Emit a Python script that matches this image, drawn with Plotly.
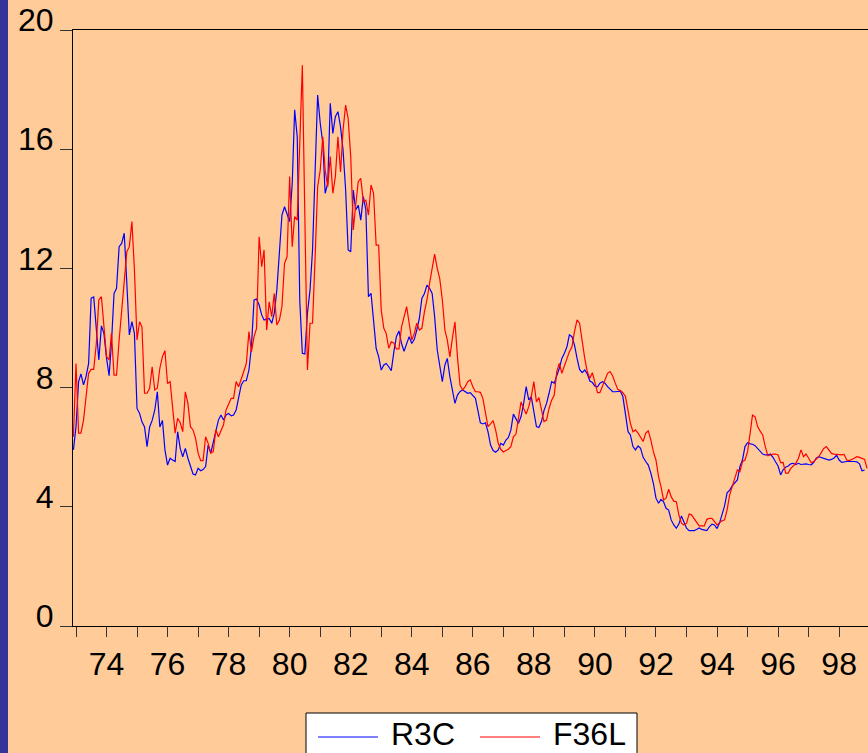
import pandas as pd
import plotly.graph_objects as go

# Monthly observations starting 1972M12
start_month = "1972-12-01"

r3c = [
    5.91, 6.69, 8.2, 8.46, 8.09, 8.37, 8.81, 11.0, 11.04, 10.04, 8.93, 10.07,
    9.82, 8.99, 8.4, 9.49, 11.16, 11.33, 12.73, 12.84, 13.18, 11.5, 9.77, 10.21,
    9.82, 7.3, 7.13, 6.85, 6.68, 6.02, 6.68, 6.9, 7.24, 7.86, 6.68, 6.9,
    5.91, 5.4, 5.63, 5.57, 5.52, 6.52, 5.96, 5.68, 5.96, 5.63, 5.4, 5.1,
    5.07, 5.29, 5.21, 5.25, 5.35, 6.07, 5.8, 6.18, 6.52, 6.91, 7.08, 6.91,
    7.08, 7.13, 7.05, 7.08, 7.25, 7.7, 8.09, 8.23, 8.23, 8.59, 9.37, 10.94,
    10.97, 10.77, 10.44, 10.27, 10.29, 10.32, 10.16, 10.49, 11.28, 12.5, 13.79, 14.07,
    13.85, 13.57, 14.86, 17.32, 16.42, 10.94, 9.15, 9.13, 10.5, 11.28, 12.62, 15.08,
    17.82, 16.87, 16.2, 14.52, 14.86, 17.54, 16.53, 17.09, 17.26, 16.75, 15.97, 14.63,
    12.62, 12.56, 14.63, 13.96, 14.12, 13.62, 14.41, 13.96, 11.05, 11.16, 10.16, 9.32,
    9.04, 8.59, 8.76, 8.81, 8.7, 8.57, 9.2, 9.71, 9.9, 9.48, 9.22, 9.48,
    9.71, 9.48, 9.62, 9.93, 10.32, 10.99, 11.16, 11.44, 11.33, 11.16, 10.38, 9.26,
    8.7, 8.2, 8.76, 8.98, 8.37, 7.92, 7.47, 7.75, 7.87, 7.92, 7.87, 7.81,
    7.83, 7.75, 7.64, 7.25, 6.82, 6.78, 6.82, 6.52, 6.07, 5.89, 5.83, 5.91,
    6.13, 6.07, 6.24, 6.32, 6.57, 7.11, 6.97, 6.8, 7.03, 7.47, 8.03, 7.59,
    7.7, 7.14, 6.69, 6.66, 6.86, 7.23, 7.47, 7.81, 8.2, 8.15, 8.37, 8.65,
    8.98, 9.15, 9.38, 9.77, 9.71, 9.43, 8.98, 8.61, 8.5, 8.59, 8.46, 8.22,
    8.17, 8.05, 8.03, 8.15, 8.2, 8.15, 8.03, 7.95, 7.86, 7.86, 7.86, 7.88,
    7.7, 7.14, 6.52, 6.41, 6.02, 5.91, 6.04, 5.96, 5.66, 5.52, 5.4, 5.13,
    4.79, 4.29, 4.12, 4.25, 4.17, 3.95, 3.89, 3.56, 3.39, 3.28, 3.42, 3.69,
    3.5, 3.28, 3.2, 3.2, 3.2, 3.24, 3.29, 3.24, 3.22, 3.2, 3.33, 3.42,
    3.39, 3.27, 3.47, 3.78, 4.03, 4.47, 4.56, 4.7, 4.79, 4.9, 5.35, 5.57,
    6.02, 6.15, 6.11, 6.1, 6.05, 5.96, 5.85, 5.77, 5.74, 5.74, 5.77, 5.66,
    5.51, 5.37, 5.07, 5.24, 5.33, 5.37, 5.44, 5.46, 5.42, 5.46, 5.42, 5.43,
    5.44, 5.42, 5.41, 5.48, 5.63, 5.68, 5.65, 5.61, 5.59, 5.57, 5.59, 5.64,
    5.73, 5.57, 5.49, 5.51, 5.52, 5.52, 5.53, 5.52, 5.51, 5.44, 5.21, 5.23,
]

f36l = [
    6.35, 8.81, 6.47, 6.47, 6.91, 7.81, 8.48, 8.61, 8.61, 9.48, 10.94, 11.05,
    9.99, 9.04, 8.93, 9.82, 8.42, 8.42, 9.6, 10.6, 11.5, 12.56, 12.73, 13.57,
    11.95, 9.6, 10.21, 10.04, 7.81, 7.81, 7.98, 8.7, 7.92, 7.98, 8.65, 9.04,
    9.24, 8.14, 8.2, 7.35, 6.47, 6.97, 6.82, 6.52, 7.86, 7.47, 6.69, 6.58,
    6.3, 5.8, 5.55, 5.55, 6.35, 6.13, 5.8, 5.85, 6.58, 6.35, 6.52, 6.75,
    7.25, 7.47, 7.64, 7.64, 8.2, 8.03, 8.26, 8.54, 8.81, 9.88, 9.2, 9.71,
    9.99, 13.06, 12.06, 12.62, 9.93, 10.88, 10.38, 11.16, 10.1, 10.27, 10.72, 12.17,
    12.39, 15.08, 12.73, 13.74, 13.62, 15.97, 18.82, 13.74, 8.59, 10.16, 10.16, 12.39,
    14.74, 15.3, 16.42, 15.3, 14.74, 15.75, 14.52, 15.08, 16.42, 15.24, 16.64, 17.48,
    17.03, 15.75, 13.29, 14.12, 14.91, 15.02, 14.24, 14.29, 13.79, 14.8, 14.52, 12.78,
    12.78, 10.6, 9.99, 9.82, 9.32, 9.54, 9.5, 9.3, 9.3, 10.04, 10.38, 10.72,
    10.16, 9.6, 9.82, 10.16, 9.93, 9.99, 10.55, 10.94, 11.5, 12.06, 12.48, 12.0,
    11.66, 10.94, 9.93, 9.6, 9.03, 9.65, 10.21, 9.03, 8.08, 7.92, 8.03, 8.2,
    8.26, 8.03, 7.86, 7.86, 7.84, 7.64, 7.1, 6.69, 6.78, 6.89, 6.57, 6.13,
    5.93, 5.84, 5.89, 5.93, 6.02, 6.35, 6.44, 6.91, 7.52, 7.3, 7.11, 7.36,
    7.7, 8.2, 7.52, 7.67, 7.3, 6.86, 6.91, 7.3, 7.58, 7.75, 8.54, 8.81,
    8.48, 8.7, 8.98, 9.2, 9.37, 9.88, 10.27, 10.16, 9.48, 8.98, 8.54, 8.31,
    8.5, 8.15, 7.83, 7.83, 8.07, 8.31, 8.48, 8.54, 8.39, 8.15, 7.94, 7.9,
    7.83, 7.7, 7.25, 6.8, 6.52, 6.58, 6.47, 6.33, 6.19, 6.47, 6.55, 6.24,
    5.85, 5.57, 5.01, 4.68, 4.23, 4.29, 4.59, 4.34, 4.19, 4.17, 3.73, 3.45,
    3.39, 3.45, 3.76, 3.73, 3.61, 3.5, 3.36, 3.36, 3.36, 3.58, 3.61, 3.61,
    3.5, 3.39, 3.47, 3.53, 3.56, 3.9, 4.4, 4.68, 4.9, 5.24, 5.18, 5.51,
    5.57, 5.85, 6.47, 7.08, 7.02, 6.69, 6.54, 6.41, 6.02, 5.71, 5.74, 5.77,
    5.77, 5.74, 5.48, 5.49, 5.13, 5.13, 5.29, 5.37, 5.46, 5.63, 5.91, 5.68,
    5.77, 5.63, 5.48, 5.51, 5.59, 5.68, 5.82, 5.96, 6.02, 5.91, 5.79, 5.77,
    5.77, 5.75, 5.74, 5.76, 5.57, 5.55, 5.59, 5.64, 5.68, 5.66, 5.63, 5.59,
    5.29,
]

y_ticks = [0, 4, 8, 12, 16, 20]
series_names = ["R3C", "F36L"]
series_colors = ["#0000FF", "#FF0000"]

dates = pd.date_range(start_month, periods=len(f36l), freq="MS")

W, H = 868, 753
ML, MR, MT, MB = 73, 0, 30, 127
PW, PH = W - ML - MR, H - MT - MB
BG = "#FFCC99"
FONT = "Liberation Sans, Arial, sans-serif"


def px_x(p):
    return (p - ML) / PW


def px_y(p):
    return (H - MB - p) / PH


fig = go.Figure()
fig.add_trace(go.Scatter(x=dates[:len(r3c)], y=r3c, mode="lines", name=series_names[0],
                         line=dict(color=series_colors[0], width=1.2), showlegend=False))
fig.add_trace(go.Scatter(x=dates, y=f36l, mode="lines", name=series_names[1],
                         line=dict(color=series_colors[1], width=1.2), showlegend=False))

fig.update_layout(
    width=W, height=H,
    margin=dict(l=ML, r=MR, t=MT, b=MB, pad=0),
    paper_bgcolor=BG, plot_bgcolor=BG,
    font=dict(family=FONT, size=32, color="black"),
    showlegend=False,
)
fig.update_xaxes(
    type="date",
    range=["1972-11-26", "1998-12-12"],
    tick0="1974-01-01", dtick="M24", tickformat="%y",
    ticks="outside", ticklen=10, tickwidth=1, tickcolor="#333333",
    minor=dict(dtick="M12", tick0="1973-01-01", ticks="outside", ticklen=10,
               tickwidth=1, tickcolor="#333333", showgrid=False),
    showline=True, linecolor="black", linewidth=1, mirror=True,
    showgrid=False, zeroline=False,
    tickfont=dict(family=FONT, size=32, color="black"),
)
fig.update_yaxes(
    range=[0, 20], tickvals=y_ticks,
    ticks="outside", ticklen=12, tickwidth=1, tickcolor="#333333",
    showline=True, linecolor="black", linewidth=1, mirror=False,
    showgrid=False, zeroline=False,
    ticklabelstandoff=0, ticklabelshift=-10,
    tickfont=dict(family=FONT, size=32, color="black"),
)

shapes = [
    # left blue stripe
    dict(type="rect", xref="paper", yref="paper",
         x0=px_x(-2), x1=px_x(8), y0=px_y(H + 5), y1=px_y(-5),
         fillcolor="#333399", line=dict(width=0), layer="above"),
    # legend box
    dict(type="rect", xref="paper", yref="paper",
         x0=px_x(306), x1=px_x(637), y0=px_y(H + 10), y1=px_y(713),
         fillcolor="white", line=dict(color="black", width=1), layer="above"),
    dict(type="line", xref="paper", yref="paper",
         x0=px_x(318), x1=px_x(378), y0=px_y(737), y1=px_y(737),
         line=dict(color=series_colors[0], width=1.2)),
    dict(type="line", xref="paper", yref="paper",
         x0=px_x(480), x1=px_x(540), y0=px_y(737), y1=px_y(737),
         line=dict(color=series_colors[1], width=1.2)),
]
fig.update_layout(shapes=shapes)

fig.add_annotation(text=series_names[0], xref="paper", yref="paper",
                   x=px_x(389), y=px_y(734), xanchor="left", yanchor="middle",
                   showarrow=False, font=dict(family=FONT, size=32, color="black"))
fig.add_annotation(text=series_names[1], xref="paper", yref="paper",
                   x=px_x(551), y=px_y(734), xanchor="left", yanchor="middle",
                   showarrow=False, font=dict(family=FONT, size=32, color="black"))

fig.write_html("out.html")
